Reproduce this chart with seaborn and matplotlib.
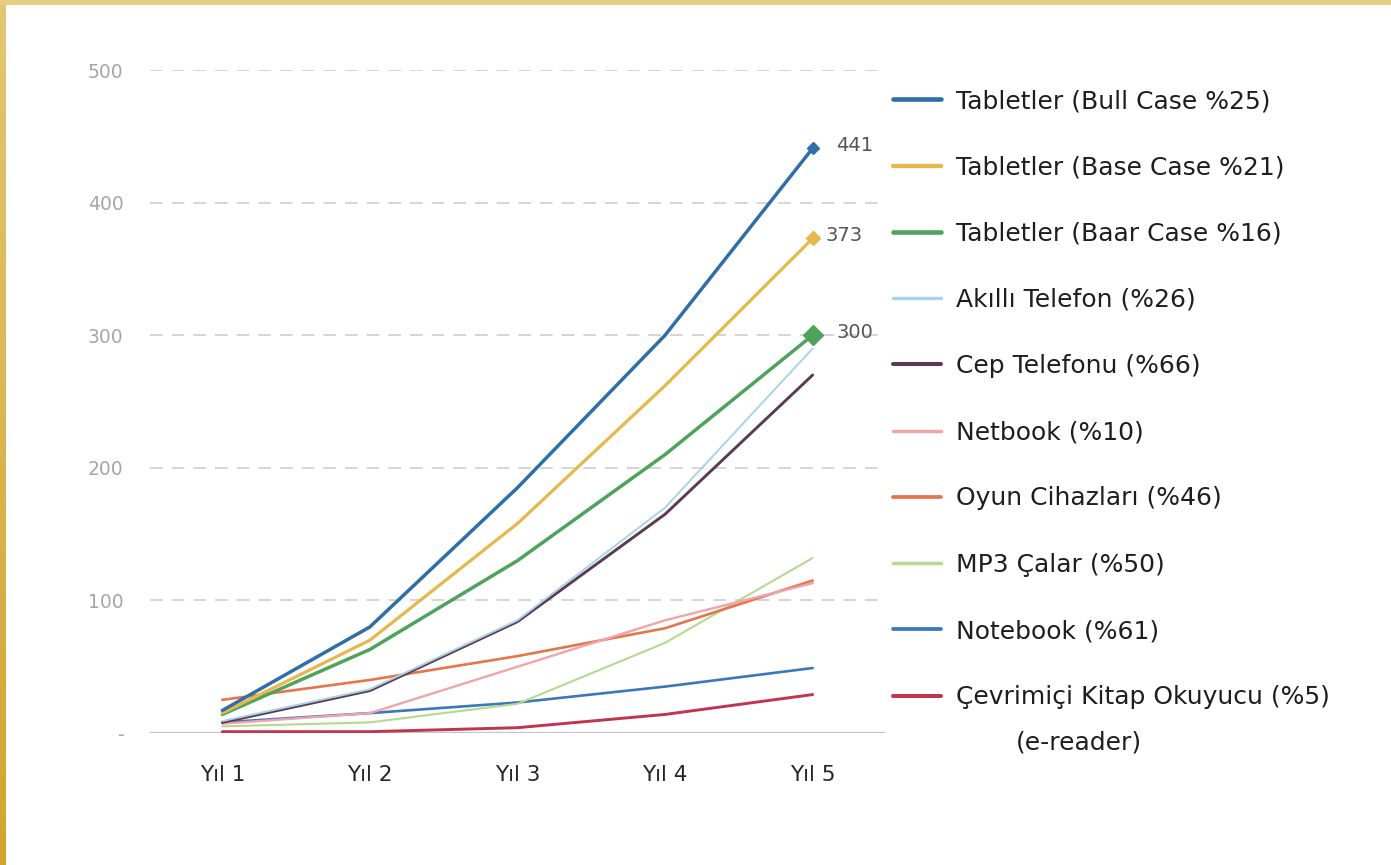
import numpy as np
import pandas as pd
import matplotlib
matplotlib.use("Agg")
import matplotlib.pyplot as plt
import seaborn as sns
from matplotlib.lines import Line2D
from matplotlib.ticker import FuncFormatter

# ---- data -------------------------------------------------------------
years = ["Yıl 1", "Yıl 2", "Yıl 3", "Yıl 4", "Yıl 5"]

series_names = [
    "Tabletler (Bull Case %25)",
    "Tabletler (Base Case %21)",
    "Tabletler (Baar Case %16)",
    "Akıllı Telefon (%26)",
    "Cep Telefonu (%66)",
    "Netbook (%10)",
    "Oyun Cihazları (%46)",
    "MP3 Çalar (%50)",
    "Notebook (%61)",
    "Çevrimiçi Kitap Okuyucu (%5)",
]
last_label_note = "(e-reader)"

tablet_bull = [17, 80, 185, 300, 441]
tablet_base = [15, 70, 158, 262, 373]
tablet_bear = [14, 63, 130, 210, 300]
smartphone = [9, 33, 85, 170, 290]
cellphone = [8, 32, 84, 165, 270]
netbook = [7, 15, 50, 85, 113]
gaming = [25, 40, 58, 79, 115]
mp3_player = [5, 8, 22, 68, 132]
notebook = [8, 15, 23, 35, 49]
ereader = [1, 1, 4, 14, 29]

series_values = [tablet_bull, tablet_base, tablet_bear, smartphone, cellphone,
                 netbook, gaming, mp3_player, notebook, ereader]

colors = ["#2f6ea6", "#e6b84c", "#4ea35c", "#a9d3e6", "#5b3b52",
          "#f0a4ab", "#e8744c", "#b5d98f", "#3b78b8", "#c2344e"]
widths = [2.5, 2.3, 2.5, 1.4, 2.1, 1.7, 1.9, 1.5, 1.9, 2.1]

# long-form table for seaborn
rows = []
for name, vals in zip(series_names, series_values):
    for i, v in enumerate(vals):
        rows.append({"series": name, "year": i, "value": v})
df = pd.DataFrame(rows)

# ---- figure -----------------------------------------------------------
sns.set_theme(style="white")
plt.rcParams["font.family"] = ["DejaVu Sans"]

fig = plt.figure(figsize=(13.91, 8.65), dpi=100)
fig.patch.set_facecolor("white")
ax = fig.add_axes([150 / 1391, 1 - 733 / 865, 735 / 1391, (733 - 70) / 865])

# draw from the back series to the front one
for name, color, lw in reversed(list(zip(series_names, colors, widths))):
    sub = df[df["series"] == name]
    sns.lineplot(data=sub, x="year", y="value", ax=ax, color=color,
                 linewidth=lw, legend=False, zorder=3)

# end markers and value labels for the tablet scenarios
end_markers = [("D", 6.5, tablet_bull, colors[0], 16.5),
               ("D", 7.5, tablet_base, colors[1], 9.5),
               ("D", 10, tablet_bear, colors[2], 17)]
for marker, size, vals, color, dx in end_markers:
    ax.plot([4], [vals[-1]], marker=marker, markersize=size, color=color,
            linestyle="none", zorder=5, clip_on=False)
    ax.annotate(f"{vals[-1]}", xy=(4, vals[-1]), xytext=(dx, 2),
                textcoords="offset points", ha="left", va="center",
                fontsize=14, color="#555555", annotation_clip=False)

# axes styling
ax.set_xlim(-0.49, 4.49)
ax.set_ylim(0, 500)
ax.set_xticks(range(len(years)))
ax.set_xticklabels(years)
ax.set_yticks([0, 100, 200, 300, 400, 500])
ax.yaxis.set_major_formatter(FuncFormatter(lambda v, p: "-" if v == 0 else f"{int(v)}"))
ax.set_xlabel("")
ax.set_ylabel("")
for s in ax.spines.values():
    s.set_visible(False)
ax.tick_params(axis="y", length=0, pad=19, labelsize=13.5, labelcolor="#a6a6a6")
ax.tick_params(axis="x", length=0, pad=23, labelsize=15.5, labelcolor="#262626")

for yv in [100, 200, 300, 400, 500]:
    ax.axhline(yv, color="#d2d2d2", linewidth=1.3, linestyle=(0, (7, 5)), zorder=1)
ax.axhline(0, color="#c4c4c4", linewidth=1.6, zorder=2)

# legend
handles = [Line2D([0], [0], color=c, linewidth=max(lw + 0.8, 2.5))
           for c, lw in zip(colors, widths)]
leg = ax.legend(handles, series_names, loc="upper left",
                bbox_to_anchor=(893 / 1391, 1 - 89 / 865), bbox_transform=fig.transFigure,
                frameon=False, fontsize=18, handlelength=1.9, handletextpad=0.6,
                labelspacing=1.69, borderpad=0, borderaxespad=0, labelcolor="#1e1e1e")

# second line of the last legend entry, set under its first line
fig.canvas.draw()
last_txt = leg.get_texts()[-1]
bb = last_txt.get_window_extent(fig.canvas.get_renderer())
fig.text((bb.x0 + 60) / 1391, (bb.y0 - 45 + bb.height / 2) / 865, last_label_note,
         fontsize=18, color="#1e1e1e", ha="left", va="center")

# gold frame strips on the top and left edges
left_strip = fig.add_axes([0, 0, 6 / 1391, 1])
grad = np.linspace(0, 1, 256).reshape(-1, 1)
left_strip.imshow(grad, aspect="auto", origin="lower",
                  cmap=matplotlib.colors.LinearSegmentedColormap.from_list(
                      "gold_v", ["#d1a52e", "#e4c774"]))
left_strip.axis("off")
top_strip = fig.add_axes([0, 1 - 5 / 865, 1, 5 / 865])
top_strip.set_facecolor("#e7cd82")
top_strip.set_xticks([])
top_strip.set_yticks([])
for s in top_strip.spines.values():
    s.set_visible(False)

fig.savefig("out.png", dpi=100, facecolor="white")
